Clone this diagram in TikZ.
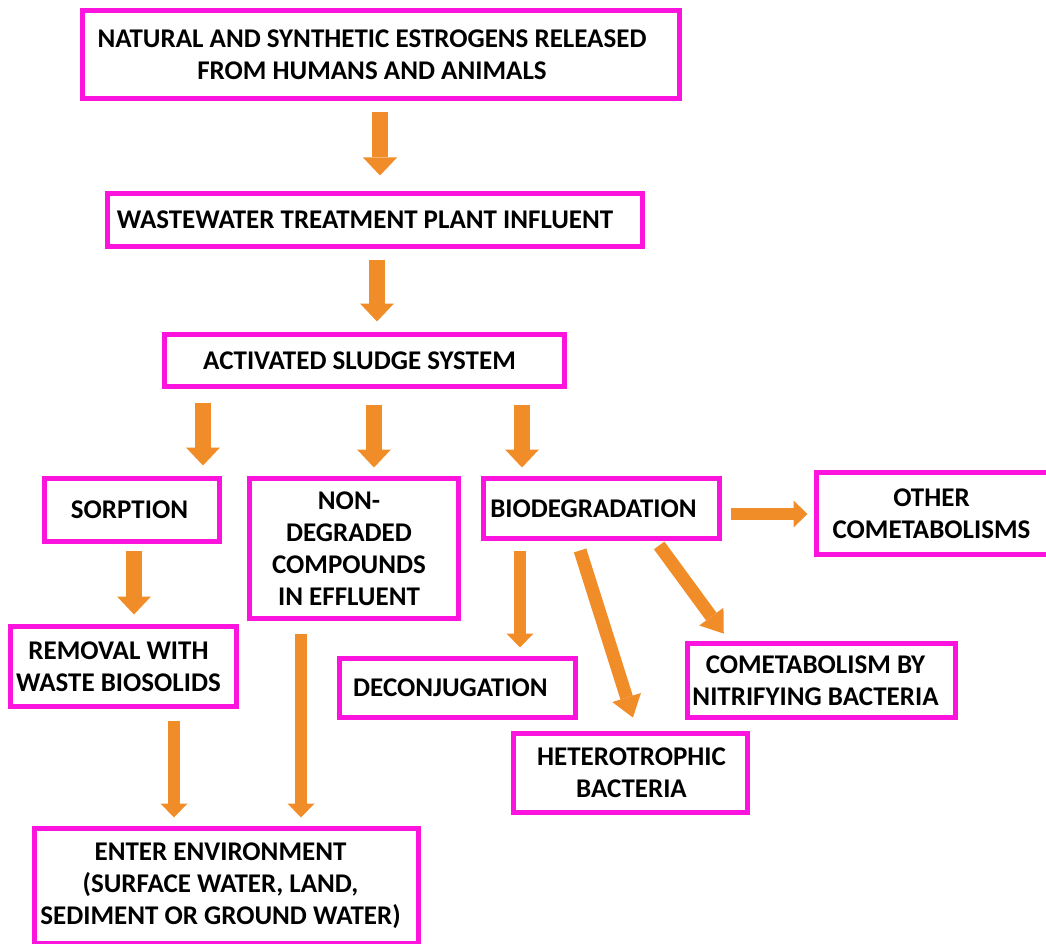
\documentclass[tikz,border=0pt]{standalone}
\usepackage{fontspec}
\setmainfont{Carlito}
\usetikzlibrary{arrows.meta}
\definecolor{boxpink}{RGB}{252,20,222}
\definecolor{flow}{RGB}{241,141,41}
\begin{document}
\begin{tikzpicture}[x=1pt,y=-1pt,
  box/.style={draw=boxpink, line width=5pt, fill=white, inner sep=0pt, minimum width=#1},
  txt/.style={align=center, inner sep=0pt, font=\fontsize{27}{32}\selectfont\bfseries},
  arr/.style={draw=flow, line width=16pt, -{Triangle[width=34pt,length=18pt,line width=0pt]}},
  slimarr/.style={draw=flow, line width=12pt, -{Triangle[width=27pt,length=14pt,line width=0pt]}},
  diagarr/.style={draw=flow, line width=13pt, -{Triangle[width=30pt,length=21pt,line width=0pt]}},
  sidearr/.style={draw=flow, line width=12pt, -{Triangle[width=27pt,length=14pt,line width=0pt]}}]
\useasboundingbox (0,0) rectangle (1046,944);

% framed boxes, each carrying its lettering as a centred label
\node[box=597pt, minimum height=88pt,
  label={[txt, name=srcT, xshift=-9pt]center:{NATURAL AND SYNTHETIC ESTROGENS RELEASED\\FROM HUMANS AND ANIMALS}}]
  (src) at (381,54.5) {};
\node[box=535pt, minimum height=53pt,
  label={[txt, name=wwtpT, xshift=-10pt]center:{WASTEWATER TREATMENT PLANT INFLUENT}}]
  (wwtp) at (375,220) {};
\node[box=400pt, minimum height=52pt,
  label={[txt, name=aslT, xshift=-5pt]center:{ACTIVATED SLUDGE SYSTEM}}]
  (asl) at (364.5,360.5) {};
\node[box=175pt, minimum height=63pt,
  label={[txt, name=sorpT, xshift=-2.5pt]center:{SORPTION}}]
  (sorp) at (132,510) {};
\node[box=209pt, minimum height=140pt,
  label={[txt, name=nondegT, xshift=-5pt]center:{NON-\\DEGRADED\\COMPOUNDS\\IN EFFLUENT}}]
  (nondeg) at (354,548.5) {};
\node[box=236pt, minimum height=60pt,
  label={[txt, name=bioT, xshift=-8pt]center:{BIODEGRADATION}}]
  (bio) at (601.5,508.5) {};
\node[box=237pt, minimum height=82pt,
  label={[txt, name=otherT, xshift=-3.5pt]center:{OTHER\\COMETABOLISMS}}]
  (other) at (935,513.5) {};
\node[box=226pt, minimum height=80pt,
  label={[txt, name=removT, xshift=-5pt]center:{REMOVAL WITH\\WASTE BIOSOLIDS}}]
  (remov) at (123.5,666.5) {};
\node[box=236pt, minimum height=59pt,
  label={[txt, name=deconjT, xshift=-7pt]center:{DECONJUGATION}}]
  (deconj) at (457.5,688) {};
\node[box=268pt, minimum height=74pt,
  label={[txt, name=nitriT, xshift=-6pt]center:{COMETABOLISM BY\\NITRIFYING BACTERIA}}]
  (nitri) at (821.5,680.5) {};
\node[box=234pt, minimum height=79pt,
  label={[txt, name=heteroT, xshift=1pt]center:{HETEROTROPHIC\\BACTERIA}}]
  (hetero) at (630.5,773) {};
\node[box=384pt, minimum height=115pt,
  label={[txt, name=envT, xshift=-6pt]center:{ENTER ENVIRONMENT\\(SURFACE WATER, LAND,\\SEDIMENT OR GROUND WATER)}}]
  (env) at (226.5,886) {};

% flow arrows
\draw[arr, shorten <=11.5pt, shorten >=15.5pt] ([xshift=-1pt]src.south) -- ([xshift=5pt]wwtp.north);
\draw[arr, shorten <=10.5pt, shorten >=10.5pt] ([xshift=2pt]wwtp.south) -- ([xshift=12.5pt]asl.north);
\draw[arr, shorten <=13.5pt, shorten >=10.5pt] ([xshift=-161.5pt]asl.south) -- ([xshift=71pt]sorp.north);
\draw[arr, shorten <=15.5pt, shorten >=8.5pt] ([xshift=9.5pt]asl.south) -- ([xshift=20pt]nondeg.north);
\draw[arr, shorten <=15.5pt, shorten >=8.5pt] ([xshift=157.5pt]asl.south) -- ([xshift=-79.5pt]bio.north);
\draw[arr, shorten <=6.5pt, shorten >=9.5pt] ([xshift=2pt]sorp.south) -- ([xshift=10.5pt]remov.north);
\draw[slimarr, shorten <=11.5pt, shorten >=8.5pt] ([xshift=50.5pt]remov.south) -- ([xshift=-52.5pt]env.north);
\draw[slimarr, shorten <=12.5pt, shorten >=8.5pt] ([xshift=-53pt]nondeg.south) -- ([xshift=74.5pt]env.north);
\draw[slimarr, shorten <=9.5pt, shorten >=8.5pt] ([xshift=-81.5pt]bio.south) -- ([xshift=62.5pt]deconj.north);
\draw[diagarr, shorten <=9.9pt, shorten >=14.1pt] ([xshift=-24.4pt]bio.south) -- ([xshift=6.7pt]hetero.north);
\draw[diagarr, shorten <=5.5pt, shorten >=9.2pt] ([xshift=54.4pt]bio.south) -- ([xshift=-92.3pt]nitri.north);
\draw[sidearr, shorten <=8.5pt, shorten >=6.5pt] ([yshift=-5.5pt]bio.east) -- ([yshift=-0.5pt]other.west);
\end{tikzpicture}
\end{document}
